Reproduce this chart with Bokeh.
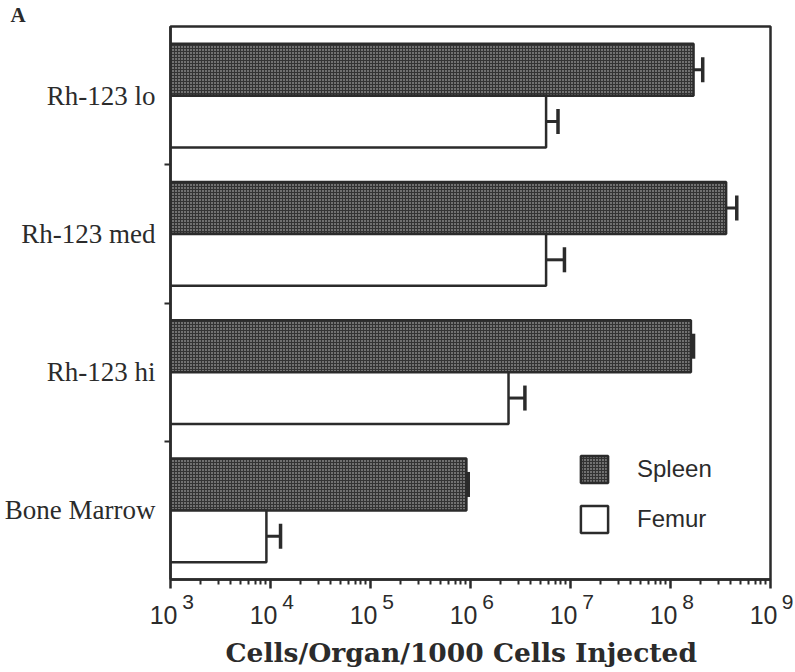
from bokeh.plotting import figure
from bokeh.models import (Range1d, FixedTicker, Whisker, TeeHead, ColumnDataSource,
                          Legend, LegendItem, LogAxis)
from bokeh.embed import file_html
from bokeh.resources import INLINE

# ---- data ----
categories = ["Rh-123 lo", "Rh-123 med", "Rh-123 hi", "Bone Marrow"]
series = ["Spleen", "Femur"]
spleen = [1.7e8, 3.6e8, 1.6e8, 9.1e5]
spleen_upper = [2.1e8, 4.6e8, 1.7e8, 9.5e5]
femur = [5.7e6, 5.7e6, 2.4e6, 9.1e3]
femur_upper = [7.5e6, 8.7e6, 3.5e6, 1.26e4]
x_ticks = [1e3, 1e4, 1e5, 1e6, 1e7, 1e8, 1e9]
x_tick_base = "10"
x_tick_exps = ["3", "4", "5", "6", "7", "8", "9"]
x_title = "Cells/Organ/1000  Cells  Injected"
panel_letter = "A"

INK = "#2b2b2b"
SERIF = "Liberation Serif"
SANS = "Liberation Sans"
NB = "\u00a0"

n = len(categories)
pos = [n - 1 - i for i in range(n)]          # top-to-bottom order
bar_h = 0.375
spleen_y = [q + bar_h / 2 for q in pos]
femur_y = [q - bar_h / 2 for q in pos]

x_lo, x_hi = x_ticks[0], x_ticks[-1]

p = figure(width=793, height=670, x_axis_type="log",
           x_range=Range1d(x_lo, x_hi), y_range=Range1d(-0.5, n - 0.5),
           output_backend="svg", toolbar_location=None,
           min_border_left=170, min_border_right=23,
           min_border_top=22, min_border_bottom=88)
p.background_fill_color = "white"
p.border_fill_color = "white"
p.xgrid.visible = False
p.ygrid.visible = False
p.outline_line_color = INK
p.outline_line_width = 2.5

# panel letter as a left-aligned title pulled to the page's left edge
p.title.text = panel_letter
p.title.align = "left"
p.title.offset = -160
p.title.standoff = 0
p.title.text_line_height = 1.0
p.title.text_font = SERIF
p.title.text_font_style = "bold"
p.title.text_font_size = "21px"
p.title.text_color = INK

src_s = ColumnDataSource(dict(y=spleen_y, right=spleen, up=spleen_upper))
src_f = ColumnDataSource(dict(y=femur_y, right=femur, up=femur_upper))

r_s = p.hbar(y="y", left=x_lo, right="right", height=bar_h, source=src_s,
             fill_color="#333333", hatch_pattern="dot", hatch_color="#cccccc",
             hatch_scale=3, hatch_weight=1.1,
             line_color=INK, line_width=2.5)
r_f = p.hbar(y="y", left=x_lo, right="right", height=bar_h, source=src_f,
             fill_color="white", line_color=INK, line_width=2.5)

for src in (src_s, src_f):
    w = Whisker(source=src, base="y", lower="right", upper="up", dimension="width",
                lower_head=None,
                upper_head=TeeHead(size=25, line_width=3.5, line_color=INK),
                line_width=3, line_color=INK)
    p.add_layout(w)

# ---- x axis 1: ticks + raised exponents ----
minor = [m * t for t in x_ticks[:-1] for m in range(2, 10)]
ax1 = p.xaxis[0]
ax1.ticker = FixedTicker(ticks=x_ticks, minor_ticks=minor)
ax1.major_label_overrides = {t: NB * 6 + e for t, e in zip(x_ticks, x_tick_exps)}
ax1.major_label_text_font = SANS
ax1.major_label_text_font_size = "21px"
ax1.major_label_text_color = INK
ax1.major_label_standoff = 1
ax1.axis_line_color = INK
ax1.axis_line_width = 2.5
ax1.major_tick_line_color = INK
ax1.major_tick_line_width = 2.5
ax1.major_tick_out = 9
ax1.major_tick_in = 0
ax1.minor_tick_line_color = INK
ax1.minor_tick_line_width = 2
ax1.minor_tick_out = 5
ax1.minor_tick_in = 0

# ---- x axis 2: the "10" bases and the axis title ----
ax2 = LogAxis(ticker=FixedTicker(ticks=x_ticks, minor_ticks=[]))
ax2.major_label_overrides = {t: x_tick_base + NB * 2 for t in x_ticks}
ax2.major_label_text_font = SANS
ax2.major_label_text_font_size = "25px"
ax2.major_label_text_color = INK
ax2.major_label_standoff = -15
ax2.axis_line_color = None
ax2.major_tick_line_color = None
ax2.minor_tick_line_color = None
ax2.major_tick_out = 0
ax2.major_tick_in = 0
ax2.minor_tick_out = 0
ax2.minor_tick_in = 0
ax2.axis_label = x_title
ax2.axis_label_standoff = 5
ax2.axis_label_text_font = "DejaVu Serif"
ax2.axis_label_text_font_style = "bold"
ax2.axis_label_text_font_size = "26.5px"
ax2.axis_label_text_color = INK
p.add_layout(ax2, "below")

# ---- y axis ----
p.yaxis.ticker = FixedTicker(ticks=pos, minor_ticks=[k + 0.5 for k in range(n - 1)])
p.yaxis.major_label_overrides = {q: c for q, c in zip(pos, categories)}
p.yaxis.major_tick_line_color = None
p.yaxis.major_label_standoff = 9
p.yaxis.major_label_text_font = SERIF
p.yaxis.major_label_text_font_size = "27px"
p.yaxis.major_label_text_color = INK
p.yaxis.axis_line_color = INK
p.yaxis.axis_line_width = 2.5
p.yaxis.minor_tick_line_color = INK
p.yaxis.minor_tick_line_width = 2
p.yaxis.minor_tick_out = 6
p.yaxis.minor_tick_in = 0

legend = Legend(items=[LegendItem(label=series[0], renderers=[r_s]),
                       LegendItem(label=series[1], renderers=[r_f])],
                location=(407, 43), border_line_color=None,
                background_fill_alpha=0, padding=0, margin=0, spacing=16,
                glyph_width=34, glyph_height=34, label_height=34,
                label_standoff=26, label_text_font=SANS,
                label_text_font_size="24px", label_text_color=INK)
p.add_layout(legend, "center")

open("out.html", "w").write(file_html(p, INLINE))
